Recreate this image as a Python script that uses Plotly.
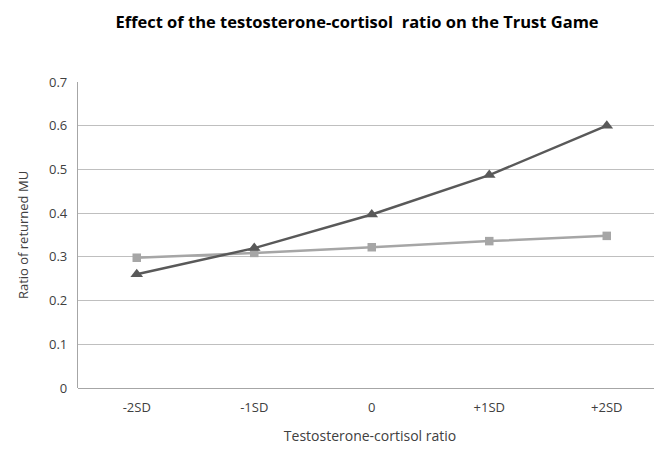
import plotly.graph_objects as go

categories = ["-2SD", "-1SD", "0", "+1SD", "+2SD"]
series_triangle = [0.26, 0.32, 0.397, 0.487, 0.60]
series_square = [0.298, 0.309, 0.322, 0.336, 0.348]

font_family = "Open Sans, Liberation Sans, Arial, sans-serif"

# page body has an 8px default margin; compensate
OFF = 8
W, H = 662 - OFF, 454 - OFF

fig = go.Figure()
fig.add_trace(go.Scatter(
    x=categories, y=series_square, mode="lines+markers",
    line=dict(color="#A6A6A6", width=2.5),
    marker=dict(symbol="square", size=8.5, color="#A6A6A6"),
    showlegend=False,
))
fig.add_trace(go.Scatter(
    x=categories, y=series_triangle, mode="lines+markers",
    line=dict(color="#595959", width=2.5),
    marker=dict(symbol="triangle-up", size=11, color="#595959"),
    showlegend=False,
))

fig.update_layout(
    width=W, height=H,
    margin=dict(l=78 - OFF, r=0, t=82 - OFF, b=66),
    paper_bgcolor="white", plot_bgcolor="white",
    font=dict(family=font_family, color="#404040", size=13),
    title=dict(
        text="<b>Effect of the testosterone-cortisol  ratio on the Trust Game</b>",
        x=(357 - OFF) / W, xanchor="center", xref="container",
        y=1 - (22 - OFF) / H, yanchor="middle", yref="container",
        font=dict(family=font_family, size=16.5, color="#000000"),
    ),
    xaxis=dict(
        type="category", range=[-0.5, 4.47],
        showgrid=False, showline=False, zeroline=False,
        ticks="", ticklabelstandoff=10,
        tickfont=dict(size=13, color="#404040"),
        title=dict(text="Testosterone-cortisol ratio", font=dict(size=14, color="#404040"), standoff=16),
    ),
    yaxis=dict(
        range=[0, 0.7], dtick=0.1, tick0=0,
        showgrid=True, gridcolor="#BFBFBF", gridwidth=1.3,
        showline=True, linecolor="#A6A6A6", linewidth=1.3,
        zeroline=True, zerolinecolor="#A6A6A6", zerolinewidth=1.3,
        ticks="", tickformat="~g", ticklabelstandoff=7,
        tickfont=dict(size=13, color="#404040"),
        title=dict(text="Ratio of returned MU", font=dict(size=13, color="#404040"), standoff=17),
    ),
)

fig.write_html("out.html")
